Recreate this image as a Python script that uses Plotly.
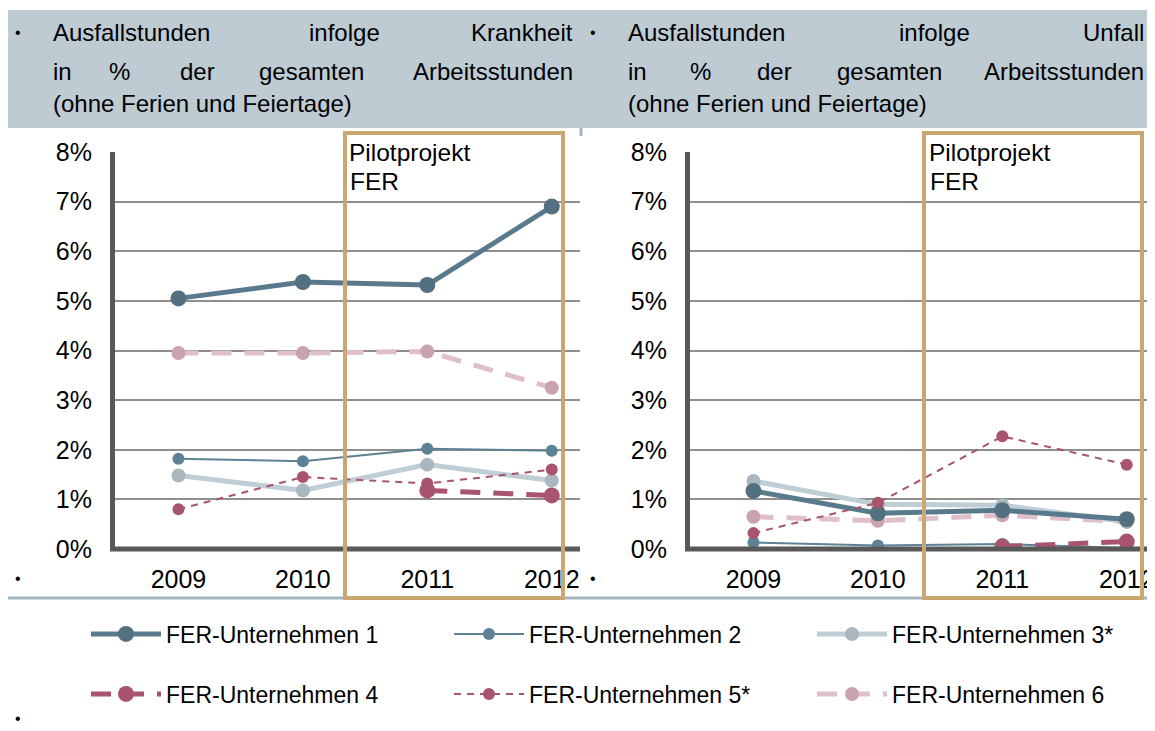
import plotly.graph_objects as go

OFF = 8  # default page body margin
W, H = 1155 - OFF, 731 - OFF

years = [2009, 2010, 2011, 2012]
year_labels = ["2009", "2010", "2011", "2012"]

series_names = ["FER-Unternehmen 1", "FER-Unternehmen 2", "FER-Unternehmen 3*",
                "FER-Unternehmen 4", "FER-Unternehmen 5*", "FER-Unternehmen 6"]

# Ausfallstunden infolge Krankheit (share of hours)
krank_u1 = [0.0505, 0.0538, 0.0532, 0.0690]
krank_u2 = [0.0182, 0.0177, 0.0202, 0.0198]
krank_u3 = [0.0148, 0.0118, 0.0170, 0.0138]
krank_u4 = [None, None, 0.0118, 0.0108]
krank_u5 = [0.0080, 0.0145, 0.0132, 0.0160]
krank_u6 = [0.0395, 0.0395, 0.0398, 0.0325]

# Ausfallstunden infolge Unfall
unfall_u1 = [0.0117, 0.0072, 0.0078, 0.0060]
unfall_u2 = [0.0013, 0.0007, 0.0010, 0.0002]
unfall_u3 = [0.0137, 0.0090, 0.0088, 0.0055]
unfall_u4 = [None, None, 0.0005, 0.0015]
unfall_u5 = [0.0032, 0.0093, 0.0227, 0.0170]
unfall_u6 = [0.0065, 0.0057, 0.0068, 0.0055]

y_ticks = [0, 0.01, 0.02, 0.03, 0.04, 0.05, 0.06, 0.07, 0.08]

FONT = "Liberation Sans, Arial, sans-serif"
FS = 24
TFS = 25
LFS = 23

styles = [
    dict(line=dict(color="#587a8c", width=5), marker=dict(color="#52707f", size=16)),
    dict(line=dict(color="#5d8195", width=2), marker=dict(color="#5d8195", size=12)),
    dict(line=dict(color="#bfcdd5", width=5), marker=dict(color="#aab7be", size=14)),
    dict(line=dict(color="#a8546e", width=5, dash="20px,13px"), marker=dict(color="#a8546e", size=16)),
    dict(line=dict(color="#a8546e", width=2, dash="7px,6px"), marker=dict(color="#a8546e", size=12)),
    dict(line=dict(color="#dfbfcb", width=5, dash="20px,13px"), marker=dict(color="#c9a3b0", size=14)),
]
legend_of = ["legend", "legend", "legend", "legend2", "legend2", "legend2"]
legend_w = [278, 278, 230, 278, 278, 230]


def px_x(x):
    return (x - OFF) / W


def px_y(y):
    return 1 - (y - OFF) / H


fig = go.Figure()

left_data = [krank_u1, krank_u2, krank_u3, krank_u4, krank_u5, krank_u6]
right_data = [unfall_u1, unfall_u2, unfall_u3, unfall_u4, unfall_u5, unfall_u6]

draw_order = [5, 2, 0, 1, 4, 3]
for i in draw_order:
    fig.add_trace(go.Scatter(x=years, y=left_data[i], name=series_names[i], mode="lines+markers",
                             line=styles[i]["line"], marker=styles[i]["marker"],
                             xaxis="x", yaxis="y", legend=legend_of[i], legendrank=i + 1,
                             legendwidth=legend_w[i], connectgaps=False, showlegend=True))
for i in draw_order:
    fig.add_trace(go.Scatter(x=years, y=right_data[i], name=series_names[i], mode="lines+markers",
                             line=styles[i]["line"], marker=styles[i]["marker"],
                             xaxis="x2", yaxis="y2", legend=legend_of[i],
                             connectgaps=False, showlegend=False))

xr = [2008.49, 2012.227]
axis_common_x = dict(range=xr, tickvals=years, ticktext=year_labels, showgrid=False,
                     zeroline=False, showline=False, ticks="", ticklabelstandoff=13,
                     automargin=False,
                     tickfont=dict(family=FONT, size=TFS, color="#000000"), fixedrange=True)
axis_common_y = dict(range=[0, 0.08], tickvals=y_ticks, tickformat=".0%", showgrid=True,
                     gridcolor="#8f8f8f", gridwidth=1.5, zeroline=False,
                     showline=True, linecolor="#595959", linewidth=5, ticks="",
                     ticklabelstandoff=13, automargin=False,
                     tickfont=dict(family=FONT, size=TFS, color="#000000"), fixedrange=True)

ydom = [px_y(549), px_y(152)]
leg_common = dict(orientation="h", x=px_x(86), xanchor="left", yanchor="middle",
                  entrywidth=278, itemwidth=70, bgcolor="rgba(0,0,0,0)",
                  font=dict(family=FONT, size=LFS), traceorder="normal")
fig.update_layout(
    template="none",
    width=W, height=H, autosize=False,
    margin=dict(l=0, r=0, t=0, b=0, autoexpand=False),
    paper_bgcolor="white", plot_bgcolor="rgba(0,0,0,0)",
    font=dict(family=FONT, size=FS, color="#000000"),
    xaxis=dict(domain=[px_x(115), px_x(580)], anchor="y", **axis_common_x),
    yaxis=dict(domain=ydom, anchor="x", **axis_common_y),
    xaxis2=dict(domain=[px_x(690), 1.0], anchor="y2", **axis_common_x),
    yaxis2=dict(domain=ydom, anchor="x2", **axis_common_y),
    legend=dict(y=px_y(634), **leg_common),
    legend2=dict(y=px_y(694), **leg_common),
    hovermode=False,
)

shapes = []
# header band
shapes.append(dict(type="rect", xref="paper", yref="paper", x0=0, x1=1, y0=px_y(128), y1=px_y(10),
                   fillcolor="#becbd3", line=dict(width=0), layer="below"))
# bottom x-axis lines (thick dark)
for x0, x1 in [(110, 580), (685, 1155)]:
    shapes.append(dict(type="line", xref="paper", yref="paper", x0=px_x(x0), x1=px_x(x1),
                       y0=px_y(549), y1=px_y(549), line=dict(color="#595959", width=5), layer="above"))
# separator line at bottom of charts
shapes.append(dict(type="line", xref="paper", yref="paper", x0=0, x1=1,
                   y0=px_y(598), y1=px_y(598), line=dict(color="#a3b6c0", width=3)))
shapes.append(dict(type="line", xref="paper", yref="paper", x0=px_x(581), x1=px_x(581),
                   y0=px_y(128), y1=px_y(136), line=dict(color="#a3b6c0", width=3)))
# pilot project frames
for x0, x1 in [(345, 563), (924, 1142)]:
    shapes.append(dict(type="rect", xref="paper", yref="paper", x0=px_x(x0), x1=px_x(x1),
                       y0=px_y(598), y1=px_y(133), line=dict(color="#c8a870", width=4),
                       fillcolor="rgba(0,0,0,0)", layer="above"))
fig.update_layout(shapes=shapes)

ann = []


def text(t, x, y, anchor="left", size=FS, bg=None):
    d = dict(text=t, xref="paper", yref="paper", x=px_x(x), y=px_y(y), xanchor=anchor,
             yanchor="middle", showarrow=False,
             font=dict(family=FONT, size=size, color="#000000"), align="left")
    if bg:
        d["bgcolor"] = bg
        d["borderpad"] = 0
    ann.append(d)


# header texts (justified look)
L1, L2, L3 = 33, 71, 104
for base, right, word3, mid1, pc, de, ges in [
        (51, 575, "Krankheit", 344, 119, 197, 311),
        (626, 1146, "Unfall", 934, 700, 774, 889)]:
    text("Ausfallstunden", base, L1)
    text("infolge", mid1, L1, "center")
    text(word3, right, L1, "right")
    text("in", base, L2)
    text("%", pc, L2, "center")
    text("der", de, L2, "center")
    text("gesamten", ges, L2, "center")
    text("Arbeitsstunden", right, L2, "right")
    text("(ohne Ferien und Feiertage)", base, L3)

# bullets
for bx, by in [(18, 33), (593, 33), (18, 578), (593, 578), (18, 718)]:
    text("•", bx, by, "center", size=16)

# pilot project labels
for x in [348, 928]:
    text("Pilotprojekt", x, 153, "left", size=24.5, bg="white")
    text("FER", x, 181, "left", size=24.5)

fig.update_layout(annotations=ann)

fig.write_html("out.html")
